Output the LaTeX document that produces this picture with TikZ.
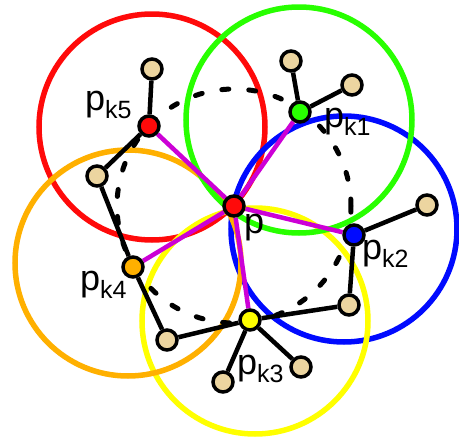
\documentclass[tikz,border=0pt]{standalone}
\usepackage{fontspec}
\setmainfont{Liberation Sans}
\definecolor{ringred}{RGB}{255,10,10}
\definecolor{ringgreen}{RGB}{40,255,0}
\definecolor{ringblue}{RGB}{0,10,255}
\definecolor{ringyellow}{RGB}{255,255,0}
\definecolor{ringorange}{RGB}{255,176,0}
\definecolor{linkmag}{RGB}{204,0,214}
\definecolor{leaf}{RGB}{236,213,160}
\pgfdeclarelayer{back}
\pgfdeclarelayer{mid}
\pgfsetlayers{back,mid,main}
\tikzset{
    ring/.style={line width=5.5pt},
    pt/.style={circle, draw=black, line width=3.5pt, minimum size=20pt, inner sep=0pt},
    leafpt/.style={pt, fill=leaf},
    link/.style={line width=4.5pt, black},
    spoke/.style={line width=4.5pt, linkmag},
    hull/.style={line width=5pt, line cap=round, dash pattern=on 7pt off 20pt},
    lab/.style={anchor=base west, inner sep=0pt, font=\fontsize{36}{40}\selectfont}
}
\newcommand{\plab}[1]{p\raisebox{-8pt}{\fontsize{25}{25}\selectfont #1}}
\begin{document}
\begin{tikzpicture}[x=1pt, y=-1pt]
    \useasboundingbox (0,0) rectangle (459,442);
    % points
    \node[pt, fill=ringred]    (p)   at (234,206) {};
    \node[pt, fill=ringgreen]  (pk1) at (300,112) {};
    \node[pt, fill=ringblue]   (pk2) at (354,235) {};
    \node[pt, fill=ringyellow] (pk3) at (250,320) {};
    \node[pt, fill=ringorange] (pk4) at (133,267) {};
    \node[pt, fill=ringred]    (pk5) at (149,126) {};
    \node[leafpt] (b11) at (291,61) {};
    \node[leafpt] (b12) at (352,85) {};
    \node[leafpt] (b21) at (427,205) {};
    \node[leafpt] (b22) at (349,305) {};
    \node[leafpt] (b31) at (301,367) {};
    \node[leafpt] (b32) at (223,382) {};
    \node[leafpt] (b41) at (167,340) {};
    \node[leafpt] (b51) at (152,69) {};
    \node[leafpt] (b52) at (97,176) {};
    % neighbour circles
    \begin{pgfonlayer}{back}
    \draw[ring, ringred]    (152,127) circle (113pt);
    \draw[ring, ringblue]   (344,229) circle (113pt);
    \draw[ring, ringyellow] (255,321) circle (113pt);
    \draw[ring, ringorange] (128,263) circle (113pt);
    \draw[ring, ringgreen]  (299,120) circle (113pt);
    \end{pgfonlayer}
    % edges
    \begin{pgfonlayer}{mid}
    \draw[hull] (p.center) circle (117pt);
    \foreach \k in {1,...,5}
        \draw[spoke] (p) -- (pk\k);
    \draw[link] (pk5) -- (b51);
    \draw[link] (pk5) -- (b52) -- (pk4) -- (b41) -- (pk3) -- (b22) -- (pk2) -- (b21);
    \draw[link] (pk3) -- (b31);
    \draw[link] (pk3) -- (b32);
    \draw[link] (pk1) -- (b11);
    \draw[link] (pk1) -- (b12);
    \end{pgfonlayer}
    % labels
    \node[lab] (lp)  at (244,233) {p};
    \node[lab] (lk1) at (324,127) {\plab{k1}};
    \node[lab] (lk2) at (362,259) {\plab{k2}};
    \node[lab] (lk3) at (237,374) {\plab{k3}};
    \node[lab] (lk4) at (80,290)  {\plab{k4}};
    \node[lab] (lk5) at (85,110)  {\plab{k5}};
\end{tikzpicture}
\end{document}
